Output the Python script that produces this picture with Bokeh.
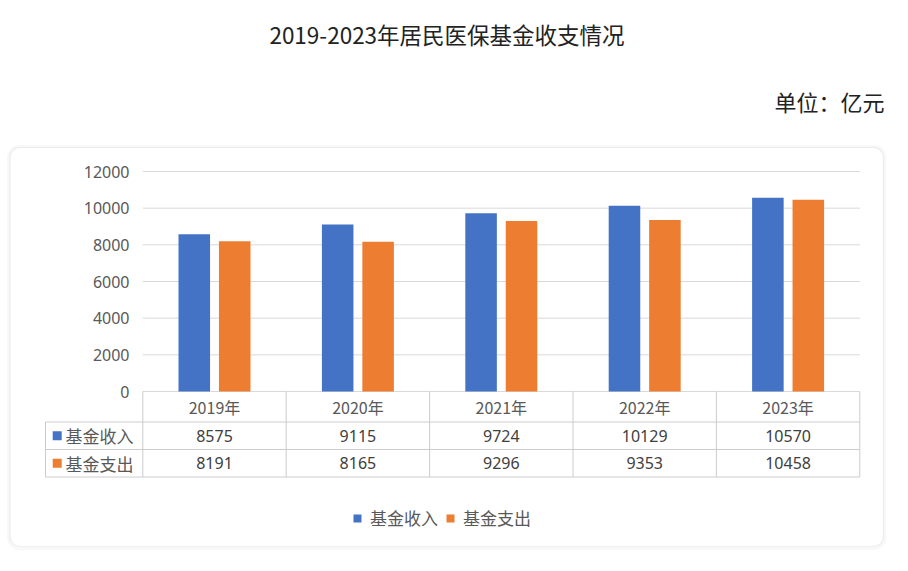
from bokeh.plotting import figure
from bokeh.models import Range1d, Label, BoxAnnotation, Legend, LegendItem, ColumnDataSource
from bokeh.transform import dodge
from bokeh.core.properties import value
from bokeh.embed import file_html
from bokeh.resources import INLINE

# data
years = ["2019年", "2020年", "2021年", "2022年", "2023年"]
income = [8575, 9115, 9724, 10129, 10570]     # 基金收入
expense = [8191, 8165, 9296, 9353, 10458]     # 基金支出
series_names = ["基金收入", "基金支出"]
yticks = [0, 2000, 4000, 6000, 8000, 10000, 12000]

title_text = "2019-2023年居民医保基金收支情况"
unit_text = "单位：亿元"

BLUE = "#4472C4"
ORANGE = "#ED7D31"
GRID = "#d9d9d9"
TXT = "#595959"
CJK_NAME = "Noto Sans CJK SC"
CJK = value(CJK_NAME)
NUM = value("Noto Sans")

# layout in pixels (y measured from the top)
W, H = 892, 555
PLOT_L, PLOT_R = 142.3, 859.3
COL_W = (PLOT_R - PLOT_L) / len(years)
Y_ZERO, Y_TOP = 391, 171
K = (Y_ZERO - Y_TOP) / yticks[-1]
LABEL_L = 45
ROW_EDGES = [391, 421.5, 449, 476.5]

p = figure(width=W, height=H, output_backend="svg", toolbar_location=None,
           x_axis_type=None, y_axis_type=None,
           x_range=Range1d(0, W), y_range=Range1d(H, 0), min_border=0)
p.outline_line_color = None
p.background_fill_color = "white"
p.border_fill_color = "white"
p.extra_x_ranges = {"cat": Range1d(-PLOT_L / COL_W - 0.5, (W - PLOT_L) / COL_W - 0.5)}
p.extra_y_ranges = {"val": Range1d((Y_ZERO - H) / K, Y_ZERO / K)}

# card behind the chart
p.add_layout(BoxAnnotation(left=8, right=884.5, top=146, bottom=548, border_radius=11,
                           fill_alpha=0, line_color="#e8e8e8", line_width=3, level="underlay"))
p.add_layout(BoxAnnotation(left=9.5, right=883, top=147, bottom=546, border_radius=10,
                           fill_color="white", fill_alpha=1, line_color="#c8c8c8",
                           line_width=1.2, level="underlay"))

# title and unit
p.add_layout(Label(x=446.5, y=33, text=title_text, text_align="center", text_baseline="middle",
                   text_font=CJK_NAME, text_font_size="22.5px", text_color="#222222"))
p.add_layout(Label(x=884, y=100, text=unit_text, text_align="right", text_baseline="middle",
                   text_font=CJK_NAME, text_font_size="22px", text_color="#222222"))

n = len(years)
src = ColumnDataSource(dict(idx=list(range(n)), years=years, income=income, expense=expense,
                            income_s=[str(v) for v in income], expense_s=[str(v) for v in expense]))

# gridlines and y labels
p.segment(x0=-0.5, x1=n - 0.5, y0=yticks, y1=yticks, x_range_name="cat", y_range_name="val",
          line_color=GRID, line_width=1)
p.text(x=[129] * len(yticks), y=yticks, text=[str(t) for t in yticks], y_range_name="val",
       text_align="right", text_baseline="middle", text_font=NUM, text_font_size="16px",
       text_color=TXT)

# bars
r_in = p.vbar(x=dodge("idx", -0.141), top="income", bottom=0, width=0.22, source=src,
              x_range_name="cat", y_range_name="val", fill_color=BLUE, line_color=None)
r_out = p.vbar(x=dodge("idx", 0.141), top="expense", bottom=0, width=0.22, source=src,
               x_range_name="cat", y_range_name="val", fill_color=ORANGE, line_color=None)

# data table under the bars
TBL = "#cccccc"
for y in ROW_EDGES[1:]:
    p.segment(x0=LABEL_L, x1=PLOT_R, y0=y, y1=y, line_color=TBL, line_width=1)
p.segment(x0=LABEL_L, x1=LABEL_L, y0=ROW_EDGES[1], y1=ROW_EDGES[-1], line_color=TBL, line_width=1)
col_edges = [k - 0.5 for k in range(n + 1)]
p.segment(x0=col_edges, x1=col_edges, y0=ROW_EDGES[0], y1=ROW_EDGES[-1], x_range_name="cat",
          line_color=TBL, line_width=1)

row_mid = [(ROW_EDGES[i] + ROW_EDGES[i + 1]) / 2 for i in range(3)]
p.text(x="idx", y=row_mid[0], text="years", source=src, x_range_name="cat",
       text_align="center", text_baseline="middle", text_font=CJK, text_font_size="16px",
       text_color=TXT)
p.text(x="idx", y=row_mid[1], text="income_s", source=src, x_range_name="cat",
       text_align="center", text_baseline="middle", text_font=NUM, text_font_size="16px",
       text_color="#404040")
p.text(x="idx", y=row_mid[2], text="expense_s", source=src, x_range_name="cat",
       text_align="center", text_baseline="middle", text_font=NUM, text_font_size="16px",
       text_color="#404040")

p.scatter(x=[56.7, 56.7], y=row_mid[1:], marker="square", size=9, color=[BLUE, ORANGE], line_color=None)
p.text(x=[65, 65], y=row_mid[1:], text=series_names, text_align="left", text_baseline="middle",
       text_font=CJK, text_font_size="17px", text_color=TXT)

# legend
legend = Legend(items=[LegendItem(label=series_names[0], renderers=[r_in]),
                       LegendItem(label=series_names[1], renderers=[r_out])],
                orientation="horizontal", location=(352, 25),
                glyph_width=10, glyph_height=10, label_standoff=8, spacing=7,
                padding=0, margin=0, border_line_color=None, background_fill_alpha=0,
                label_text_font=CJK_NAME, label_text_font_size="17px", label_text_color=TXT,
                label_height=20)
p.add_layout(legend, "center")

open("out.html", "w").write(file_html(p, INLINE))
